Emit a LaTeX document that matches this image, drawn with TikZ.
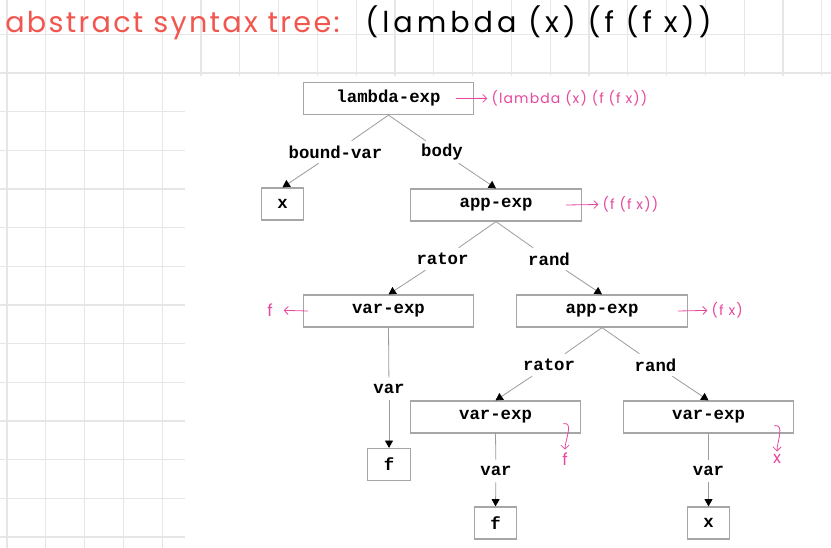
\documentclass[tikz,border=0pt]{standalone}
\usepackage{fontspec}
\setmonofont{Liberation Mono}
\newfontfamily\handfont[LetterSpace=8]{Poppins}
\newfontfamily\exprfont[LetterSpace=14]{Poppins}
\usetikzlibrary{arrows.meta}
\definecolor{gridgray}{HTML}{E6E6E6}
\definecolor{boxgray}{HTML}{A6A6A6}
\definecolor{linkgray}{HTML}{9C9C9C}
\definecolor{inkpink}{HTML}{E6489E}
\definecolor{titlered}{HTML}{F1564F}

\begin{document}
\begin{tikzpicture}[x=0.75pt,y=-0.75pt,
  font=\ttfamily\bfseries\fontsize{13}{15}\selectfont,
  expbox/.style={draw=boxgray,line width=0.9pt,minimum width=128pt,minimum height=24pt,inner sep=0pt},
  leafbox/.style={expbox,minimum width=32pt},
  field/.style={inner sep=1pt,minimum height=16.5pt},
  link/.style={linkgray,line width=0.6pt},
  tip/.style={-{Triangle[length=5.5pt,width=6pt,color=black]}},
  note/.style={inkpink,font=\handfont\fontsize{10.5}{12}\selectfont,inner sep=1pt},
  bignote/.style={note,font=\handfont\fontsize{12.5}{14}\selectfont},
  pen/.style={inkpink,line width=0.6pt,shorten >=2pt,-{Straight Barb[length=3pt,width=6pt]}}]
\fill[white] (0,0) rectangle (831,548);
\useasboundingbox (0,0) rectangle (831,548);
% grid paper
\foreach \k in {0,...,21}
  \draw[gridgray,line width=0.9pt] (7+38.8*\k,0) -- (7+38.8*\k,76);
\foreach \k in {0,...,4}
  \draw[gridgray,line width=0.9pt] (7+38.8*\k,76) -- (7+38.8*\k,548);
\foreach \y in {34.3,73}
  \draw[gridgray,line width=0.9pt] (0,\y) -- (831,\y);
\foreach \k in {1,...,12}
  \draw[gridgray,line width=0.9pt] (0,73+38.67*\k) -- (185,73+38.67*\k);
% title
\node[anchor=base west,inner sep=0pt,text=titlered,font=\handfont\fontsize{21.5}{26}\selectfont] (title) at (5,33) {abstract syntax tree:};
\node[anchor=base west,inner sep=0pt,font=\exprfont\fontsize{21.5}{26}\selectfont] (expr) at (365,33) {(lambda (x) (f (f x))};
% tree
\node[expbox] (lam) at (388.5,98.5) {lambda-exp};
\node[leafbox] (bvx) at (282.5,204) {x};
\node[expbox] (app1) at (496,205) {app-exp};
\node[expbox] (vr1) at (388.5,311) {var-exp};
\node[expbox] (app2) at (602,311) {app-exp};
\node[expbox] (vr2) at (495.5,417) {var-exp};
\node[expbox] (vr3) at (708.5,417) {var-exp};
\node[leafbox] (f1) at (389,464.5) {f};
\node[leafbox] (f2) at (495.5,523) {f};
\node[leafbox] (x2) at (708.5,523) {x};
\node[field] (bv) at (335.5,152) {bound-var};
\node[field] (bd) at (442,152) {body};
\node[field] (rt1) at (442.5,259) {rator};
\node[field] (rd1) at (549,259) {rand};
\node[field] (vl1) at (389,389) {var};
\node[field] (rt2) at (549,365) {rator};
\node[field] (rd2) at (655.5,365) {rand};
\node[field] (vl2) at (496,471) {var};
\node[field] (vl3) at (708.5,471) {var};
\foreach \p/\l/\c in {lam/bv/bvx,lam/bd/app1,app1/rt1/vr1,app1/rd1/app2,vr1/vl1/f1,
    app2/rt2/vr2,app2/rd2/vr3,vr2/vl2/f2,vr3/vl3/x2}{
  \draw[link] (\p.south) -- (\l);
  \draw[link,tip] (\l) -- (\c.north);
}
% pink notes
\node[note,anchor=west] (n1) at (490,98) {(lambda (x) (f (f x))};
\node[note,anchor=west] (n2) at (601,204) {(f (f x))};
\node[bignote] (n3) at (270,310) {f};
\node[note,anchor=west] (n4) at (710,310) {(f x)};
\node[bignote] (n5) at (565,459) {f};
\node[bignote] (n6) at (777,459) {x};
\draw[pen] ([xshift=-14pt]lam.east) -- (n1);
\draw[pen] ([xshift=-12pt]app1.east) -- (n2);
\draw[pen,shorten >=7pt] ([xshift=4pt]vr1.west) -- (n3);
\draw[pen] ([xshift=-7.5pt]app2.east) -- (n4);
\draw[pen,shorten >=1pt] ([xshift=-13.5pt,yshift=7.5pt]vr2.south east) to[out=10,in=90] (n5.north);
\draw[pen,shorten >=1pt] ([xshift=-15pt,yshift=6pt]vr3.south east) to[out=10,in=90] (n6.north);
\end{tikzpicture}
\end{document}
